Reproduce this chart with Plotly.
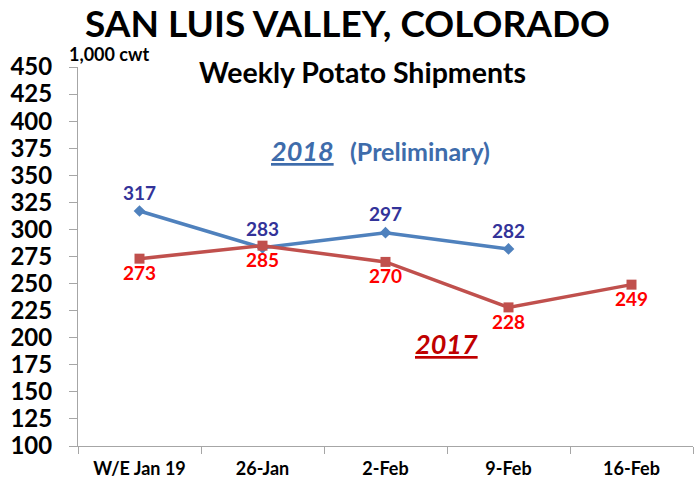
import plotly.graph_objects as go

categories = ["W/E Jan 19", "26-Jan", "2-Feb", "9-Feb", "16-Feb"]
y2018 = [317, 283, 297, 282, None]
y2017 = [273, 285, 270, 228, 249]
yticks = list(range(100, 451, 25))

FONT = "Lato"
W, H = 694, 485

# plot area in page pixels
PL, PR, PT, PB = 78, 693, 67, 446
PW, PH = PR - PL, PB - PT


def px(x):
    return (x - PL) / PW


def py(y):
    return (PB - y) / PH


fig = go.Figure()
fig.add_trace(go.Scatter(
    x=categories, y=y2018, mode="lines+markers+text",
    line=dict(color="#4F81BD", width=3.5),
    marker=dict(symbol="diamond", size=9, color="#4F81BD"),
    text=[str(v) if v is not None else "" for v in y2018],
    textposition="top center",
    textfont=dict(family=FONT, size=19, color="#333399", weight="bold"),
    cliponaxis=False, showlegend=False, connectgaps=False,
))
fig.add_trace(go.Scatter(
    x=categories, y=y2017, mode="lines+markers+text",
    line=dict(color="#C0504D", width=3.5),
    marker=dict(symbol="square", size=10, color="#C0504D"),
    text=[str(v) for v in y2017],
    textposition="bottom center",
    textfont=dict(family=FONT, size=19, color="#FF0000", weight="bold"),
    cliponaxis=False, showlegend=False,
))

fig.update_layout(
    width=W, height=H,
    margin=dict(l=PL, r=W - PR, t=PT, b=H - PB),
    paper_bgcolor="white", plot_bgcolor="white",
    font=dict(family=FONT, color="black"),
    xaxis=dict(
        type="category", range=[-0.5, 4.5],
        showline=True, linecolor="#A6A6A6", linewidth=1,
        ticks="outside", tickson="boundaries", ticklen=7, tickcolor="#A6A6A6",
        ticklabelstandoff=6,
        tickfont=dict(family=FONT, size=18, color="black", weight="bold"),
        showgrid=False, fixedrange=True, automargin=False,
    ),
    yaxis=dict(
        range=[100, 450], tickvals=yticks,
        showline=True, linecolor="#A6A6A6", linewidth=1,
        ticks="outside", ticklen=8, tickcolor="#A6A6A6",
        ticklabelstandoff=12,
        tickfont=dict(family=FONT, size=24, color="black", weight="bold"),
        showgrid=False, zeroline=False, automargin=False,
    ),
    annotations=[
        dict(text="<b>SAN LUIS VALLEY, COLORADO</b>", xref="paper", yref="paper",
             x=px(347), y=py(23), showarrow=False,
             font=dict(family=FONT, size=37, color="black"), xanchor="center", yanchor="middle"),
        dict(text="<b>Weekly Potato Shipments</b>", xref="paper", yref="paper",
             x=px(362), y=py(72), showarrow=False,
             font=dict(family=FONT, size=28.5, color="black"), xanchor="center", yanchor="middle"),
        dict(text="<b>1,000 cwt</b>", xref="paper", yref="paper",
             x=px(67), y=py(54), showarrow=False,
             font=dict(family=FONT, size=18, color="black"), xanchor="left", yanchor="middle"),
        dict(text="<b><i><u>2018</u></i></b>", xref="paper", yref="paper",
             x=px(302), y=py(150), showarrow=False,
             font=dict(family=FONT, size=27, color="#3E6CAB"), xanchor="center", yanchor="middle"),
        dict(text="<b>(Preliminary)</b>", xref="paper", yref="paper",
             x=px(420), y=py(151), showarrow=False,
             font=dict(family=FONT, size=25, color="#3E6CAB"), xanchor="center", yanchor="middle"),
        dict(text="<b><i><u>2017</u></i></b>", xref="paper", yref="paper",
             x=px(446), y=py(343), showarrow=False,
             font=dict(family=FONT, size=27, color="#C00000"), xanchor="center", yanchor="middle"),
    ],
)

fig.write_html("out.html", config={"displayModeBar": False},
               post_script="document.body.style.margin='0';")
